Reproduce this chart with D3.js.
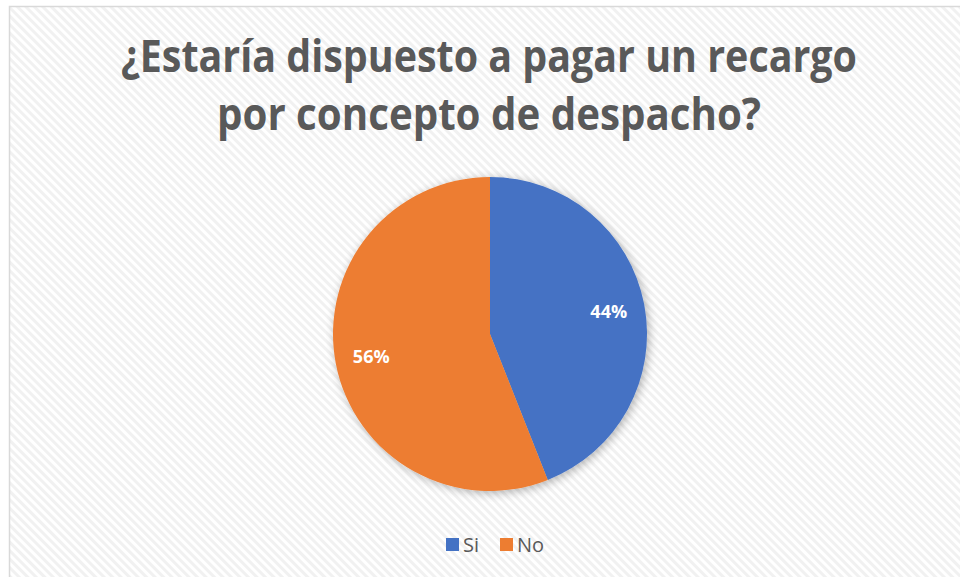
<!DOCTYPE html>
<html>
<head>
<meta charset="utf-8">
<script src="https://cdn.jsdelivr.net/npm/d3@7"></script>
<style>
  html, body { margin: 0; padding: 0; background: #ffffff; }
  svg { display: block; }
</style>
</head>
<body>
<svg id="chart" width="960" height="577"></svg>
<script>
const categories = ["Si", "No"];
const values = [44, 56];
const colors = ["#4472C4", "#ED7D31"];
const titleLines = ["¿Estaría dispuesto a pagar un recargo", "por concepto de despacho?"];

const svg = d3.select("#chart");
const defs = svg.append("defs");

const pat = defs.append("pattern")
  .attr("id", "stripes")
  .attr("patternUnits", "userSpaceOnUse")
  .attr("width", 6).attr("height", 6)
  .attr("patternTransform", "rotate(-45)");
pat.append("rect").attr("width", 6).attr("height", 6).attr("fill", "#ffffff");
pat.append("rect").attr("x", 0).attr("width", 3).attr("height", 6).attr("fill", "#f1f1f1");

const filt = defs.append("filter").attr("id", "shadow")
  .attr("x", "-20%").attr("y", "-20%").attr("width", "140%").attr("height", "140%");
filt.append("feGaussianBlur").attr("in", "SourceAlpha").attr("stdDeviation", 5).attr("result", "blur");
filt.append("feOffset").attr("in", "blur").attr("dx", 2).attr("dy", 2).attr("result", "off");
filt.append("feComponentTransfer").attr("in", "off").attr("result", "soft")
  .append("feFuncA").attr("type", "linear").attr("slope", 0.3);
const merge = filt.append("feMerge");
merge.append("feMergeNode").attr("in", "soft");
merge.append("feMergeNode").attr("in", "SourceGraphic");

// chart area
svg.append("rect")
  .attr("x", 9.5).attr("y", 6.5)
  .attr("width", 960).attr("height", 580)
  .attr("fill", "url(#stripes)")
  .attr("stroke", "#d9d9d9").attr("stroke-width", 1.5);

// title
const titleWidths = [736, 544];
const titleX = [489, 489];
const titleY = [72, 130];
svg.selectAll("text.title").data(titleLines).join("text")
  .attr("class", "title")
  .attr("x", (d, i) => titleX[i])
  .attr("y", (d, i) => titleY[i])
  .attr("text-anchor", "middle")
  .attr("font-family", "'Open Sans', 'Noto Sans', sans-serif")
  .attr("font-weight", "bold")
  .attr("font-size", 44)
  .attr("fill", "#595959")
  .attr("textLength", (d, i) => titleWidths[i])
  .attr("lengthAdjust", "spacingAndGlyphs")
  .text(d => d);

// pie
const cx = 490, cy = 334, r = 157;
const pie = d3.pie().sort(null).value(d => d);
const arcs = pie(values);
const arc = d3.arc().innerRadius(0).outerRadius(r);
const labelArc = d3.arc().innerRadius(r * 0.77).outerRadius(r * 0.77);
const total = d3.sum(values);

const g = svg.append("g").attr("transform", `translate(${cx},${cy})`);
g.append("g").attr("filter", "url(#shadow)")
  .selectAll("path").data(arcs).join("path")
  .attr("d", arc)
  .attr("fill", (d, i) => colors[i]);

g.selectAll("text.lbl").data(arcs).join("text")
  .attr("class", "lbl")
  .attr("transform", d => `translate(${labelArc.centroid(d)})`)
  .attr("text-anchor", "middle")
  .attr("dy", "0.36em")
  .attr("font-family", "'Open Sans', 'Noto Sans', sans-serif")
  .attr("font-weight", "bold")
  .attr("font-size", 18)
  .attr("fill", "#ffffff")
  .text(d => Math.round(d.data / total * 100) + "%");

// legend
const legendX = [446, 500];
const lg = svg.append("g");
const items = lg.selectAll("g").data(categories).join("g")
  .attr("transform", (d, i) => `translate(${legendX[i]},538)`);
items.append("rect").attr("width", 13).attr("height", 13)
  .attr("fill", (d, i) => colors[i]);
items.append("text")
  .attr("x", 17).attr("y", 14)
  .attr("font-family", "'Open Sans', 'Noto Sans', sans-serif")
  .attr("font-size", 20)
  .attr("fill", "#595959")
  .text(d => d);
</script>
</body>
</html>
